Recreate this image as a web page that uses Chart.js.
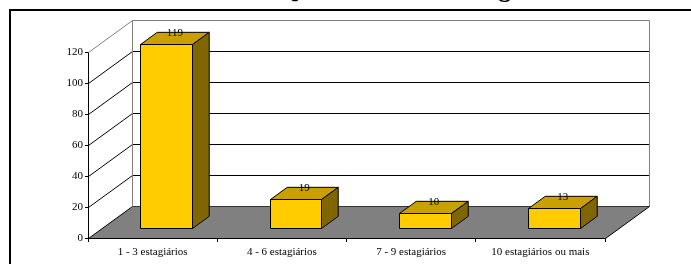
<!DOCTYPE html>
<html>
<head>
<meta charset="utf-8">
<script src="https://cdn.jsdelivr.net/npm/chart.js@4.4.0/dist/chart.umd.min.js"></script>
<style>
    html, body { margin: 0; padding: 0; background: #fff; overflow: hidden; width: 691px; height: 264px; }
    #wrap { position: absolute; left: 0; top: -30px; }
</style>
</head>
<body>
<div id="wrap"><canvas id="estagiariosChart" width="852" height="300"></canvas></div>
<script>
// Chart data
const chartTitle = 'Quantidade de Estagiários';
const categories = ['1 - 3 estagiários', '4 - 6 estagiários', '7 - 9 estagiários', '10 estagiários ou mais'];
const values = [119, 19, 10, 13];
const yMin = 0;
const yMax = 120;
const yStep = 20;

// 3D look (Excel style)
const DEPTH_X = 44, DEPTH_Y = -32;
const BAR_FRONT = 0.31, BAR_BACK = 0.69;
const serif = "'Liberation Serif', 'Times New Roman', serif";

function poly(ctx, pts, fill, stroke) {
    ctx.beginPath();
    ctx.moveTo(pts[0][0], pts[0][1]);
    for (let i = 1; i < pts.length; i++) ctx.lineTo(pts[i][0], pts[i][1]);
    ctx.closePath();
    if (fill) { ctx.fillStyle = fill; ctx.fill(); }
    if (stroke) { ctx.strokeStyle = stroke; ctx.stroke(); }
}

function line(ctx, x1, y1, x2, y2, color) {
    ctx.beginPath();
    ctx.moveTo(x1, y1);
    ctx.lineTo(x2, y2);
    ctx.strokeStyle = color;
    ctx.stroke();
}

const frame3d = {
    id: 'frame3d',
    beforeDatasetsDraw(chart) {
        const { ctx, chartArea: a, scales: { y } } = chart;
        const l = a.left + 0.5, r = a.right + 0.5;
        const b = Math.round(y.getPixelForValue(yMin)) + 0.5;
        const t = Math.round(y.getPixelForValue(yMax)) + 0.5;
        ctx.save();
        ctx.lineWidth = 1;

        // floor
        poly(ctx, [[l, b], [r, b], [r + DEPTH_X, b + DEPTH_Y], [l + DEPTH_X, b + DEPTH_Y]], '#808080', null);

        // grid on side + back wall
        for (let v = yMin; v <= yMax; v += yStep) {
            const py = Math.round(y.getPixelForValue(v)) + 0.5;
            const c = v === yMax ? '#808080' : '#000';
            line(ctx, l, py, l + DEPTH_X, py + DEPTH_Y, c);
            line(ctx, l + DEPTH_X, py + DEPTH_Y, r + DEPTH_X, py + DEPTH_Y, v === yMin ? '#333' : c);
        }

        // wall edges
        line(ctx, l + DEPTH_X, t + DEPTH_Y, l + DEPTH_X, b + DEPTH_Y, '#808080');
        line(ctx, r + DEPTH_X, t + DEPTH_Y, r + DEPTH_X, b + DEPTH_Y, '#808080');
        // floor edges
        line(ctx, r, b, r + DEPTH_X, b + DEPTH_Y, '#000');
        line(ctx, l - 0.5, b, r, b, '#000');

        ctx.restore();
    },
    afterDatasetsDraw(chart) {
        const { ctx } = chart;
        const meta = chart.getDatasetMeta(0);
        const fx = DEPTH_X * BAR_FRONT, fy = DEPTH_Y * BAR_FRONT;
        const ddx = DEPTH_X * (BAR_BACK - BAR_FRONT), ddy = DEPTH_Y * (BAR_BACK - BAR_FRONT);
        ctx.save();
        ctx.lineWidth = 1;
        ctx.lineJoin = 'miter';
        meta.data.forEach((bar, i) => {
            const p = bar.getProps(['x', 'y', 'base', 'width'], true);
            const x0 = Math.round(p.x - p.width / 2 + fx) + 0.5;
            const x1 = Math.round(p.x + p.width / 2 + fx) + 0.5;
            const y0 = Math.round(p.y + fy) + 0.5;
            const y1 = Math.round(p.base + fy) + 0.5;

            // front face
            poly(ctx, [[x0, y0], [x1, y0], [x1, y1], [x0, y1]], '#FFCC00', '#000');
            // top face
            poly(ctx, [[x0, y0], [x1, y0], [x1 + ddx, y0 + ddy], [x0 + ddx, y0 + ddy]], '#C9A000', '#000');
            // side face
            poly(ctx, [[x1, y0], [x1 + ddx, y0 + ddy], [x1 + ddx, y1 + ddy], [x1, y1]], '#806600', '#000');

            // value label
            ctx.font = '11px ' + serif;
            ctx.fillStyle = '#000';
            ctx.textAlign = 'center';
            ctx.textBaseline = 'middle';
            ctx.fillText(String(values[i]), (x0 + x1) / 2 + ddx / 2, y0 + ddy / 2 - 5);
        });
        ctx.restore();
    },
    afterDraw(chart) {
        // outer frame of the figure
        const { ctx } = chart;
        ctx.save();
        ctx.lineWidth = 2;
        ctx.strokeStyle = '#000';
        ctx.strokeRect(10, 40, 1000, 1000);
        ctx.restore();
    }
};

const chartCtx = document.getElementById('estagiariosChart');
new Chart(chartCtx, {
    type: 'bar',
    data: {
        labels: categories,
        datasets: [{
            label: 'Estagiários',
            data: values,
            backgroundColor: 'rgba(0,0,0,0)',
            borderWidth: 0,
            categoryPercentage: 1,
            barPercentage: 0.4
        }]
    },
    options: {
        responsive: false,
        animation: false,
        layout: { padding: 0 },
        plugins: {
            legend: { display: false },
            tooltip: { enabled: false },
            title: {
                display: true,
                text: chartTitle,
                color: '#000',
                font: { family: serif, size: 26, weight: 'bold' },
                padding: { top: 5, bottom: 46 }
            }
        },
        scales: {
            x: {
                grid: { drawOnChartArea: false, tickLength: 4, color: '#000', offset: true },
                border: { color: '#000' },
                ticks: { color: '#000', font: { family: serif, size: 11 }, padding: 4, maxRotation: 0, autoSkip: false },
                afterFit: s => { s.height = 32; }
            },
            y: {
                min: yMin,
                max: yMax,
                grid: { drawOnChartArea: false, tickLength: 3, color: '#000' },
                border: { color: '#000' },
                ticks: { stepSize: yStep, color: '#000', font: { family: serif, size: 11 }, padding: 2 },
                afterFit: s => { s.width = 88; }
            },
            pad: {
                position: 'right',
                grid: { display: false },
                ticks: { display: false },
                border: { display: false },
                afterFit: s => { s.width = 247; }
            }
        }
    },
    plugins: [frame3d]
});
</script>
</body>
</html>
